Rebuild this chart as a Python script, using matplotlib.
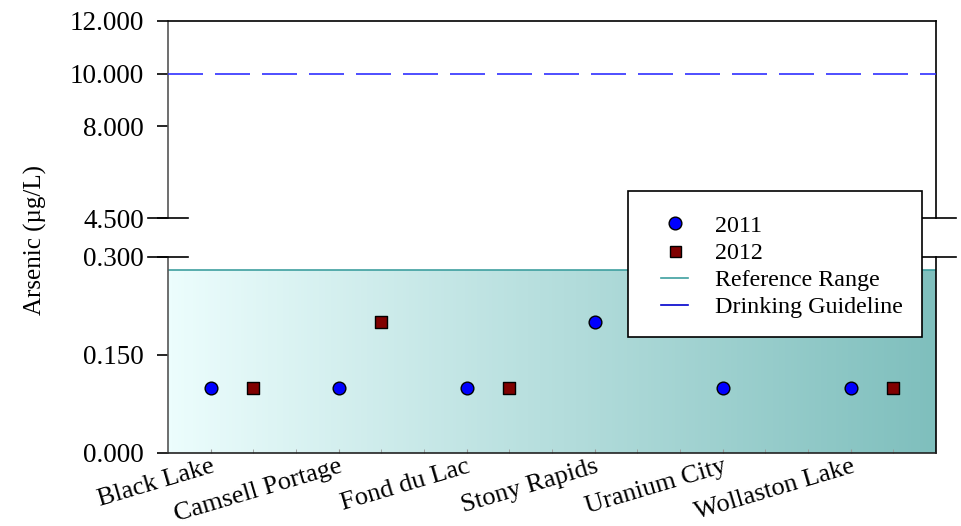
import matplotlib
matplotlib.use("Agg")
import matplotlib.pyplot as plt
import numpy as np
from matplotlib.colors import LinearSegmentedColormap
from matplotlib.lines import Line2D
from matplotlib.patches import Rectangle
from matplotlib.transforms import blended_transform_factory

plt.rcParams['font.family'] = ['Liberation Serif', 'DejaVu Serif']

categories = ["Black Lake", "Camsell Portage", "Fond du Lac", "Stony Rapids", "Uranium City", "Wollaston Lake"]
values_2011 = [0.1, 0.1, 0.1, 0.2, 0.1, 0.1]
values_2012 = [0.1, 0.2, 0.1, None, None, 0.1]
reference_range = (0.0, 0.28)
drinking_guideline = 10.0
upper_ticks = [12.0, 10.0, 8.0, 4.5]
lower_ticks = [0.0, 0.15, 0.3]
y_label = "Arsenic (µg/L)"
legend_labels = ["2011", "2012", "Reference Range", "Drinking Guideline"]

W, H = 961, 526
fig = plt.figure(figsize=(W / 100, H / 100), dpi=100)
PT = 72 / 100  # points per pixel

L, R = 168, 936
ax_top = fig.add_axes([L / W, 1 - 218 / H, (R - L) / W, (218 - 21) / H])
ax_bot = fig.add_axes([L / W, 1 - 453 / H, (R - L) / W, (453 - 257) / H])

n = len(categories)
xmax = 3 * n

x11 = [3 * i + 1 for i in range(n)]
x12 = [3 * i + 2 for i in range(n)]

# gradient reference range
cmap = LinearSegmentedColormap.from_list("ref", ["#ecfdfd", "#7fbfbd"])
grad = np.linspace(0, 1, 256).reshape(1, -1)
ax_bot.imshow(grad, extent=[0, xmax, reference_range[0], reference_range[1]],
              aspect='auto', cmap=cmap, origin='lower', zorder=1, interpolation='bilinear')
ax_bot.plot([0, xmax], [reference_range[1]] * 2, color="#3e9f9f", lw=1.2, zorder=2)

# data points
px = [x for x, v in zip(x11, values_2011) if v is not None]
py = [v for v in values_2011 if v is not None]
ax_bot.scatter(px, py, s=(12.7 * PT) ** 2, marker='o', facecolor='#0000ff', edgecolor='black',
               linewidths=1.0, zorder=5)
qx = [x for x, v in zip(x12, values_2012) if v is not None]
qy = [v for v in values_2012 if v is not None]
ax_bot.scatter(qx, qy, s=(11.3 * PT) ** 2, marker='s', facecolor='#800000', edgecolor='black',
               linewidths=1.0, zorder=5)

# guideline
lw_g = 1.2
ax_top.plot([0, xmax], [drinking_guideline] * 2, color='#3030ff', lw=lw_g,
            dashes=(35 * PT / lw_g, 12 * PT / lw_g), zorder=3)

for ax in (ax_top, ax_bot):
    ax.set_xlim(0, xmax)
ax_top.set_ylim(4.5, 12)
ax_bot.set_ylim(0, 0.3)

# spines
ax_top.spines['bottom'].set_visible(False)
ax_bot.spines['top'].set_visible(False)
for ax in (ax_top, ax_bot):
    ax.spines['left'].set_color('#555555')
    ax.spines['right'].set_color('black')
    ax.spines['left'].set_linewidth(1.2)
    ax.spines['right'].set_linewidth(1.2)
ax_top.spines['top'].set_linewidth(1.2)
ax_bot.spines['bottom'].set_linewidth(1.2)
ax_bot.spines['bottom'].set_color('#222222')

# y ticks
ax_top.set_yticks(upper_ticks)
ax_top.set_yticklabels([f"{t:.3f}" for t in upper_ticks])
ax_bot.set_yticks(lower_ticks)
ax_bot.set_yticklabels([f"{t:.3f}" for t in lower_ticks])
for ax in (ax_top, ax_bot):
    ax.tick_params(axis='y', direction='out', length=11 * PT, width=1.2, labelsize=19.5,
                   pad=13 * PT, color='black')
ax_top.tick_params(axis='x', bottom=False, labelbottom=False)

# x ticks
ax_bot.set_xticks(x11)
ax_bot.set_xticklabels(categories, rotation=16.5, ha='right', rotation_mode='anchor', fontsize=19)
ax_bot.set_xticks(list(range(1, xmax)), minor=True)
ax_bot.tick_params(axis='x', which='major', direction='in', length=3, color='#999999', pad=2)
ax_bot.tick_params(axis='x', which='minor', direction='in', length=3, color='#999999')

# break marks
d = 20 / (R - L)
for ax, yv in ((ax_top, 4.5), (ax_bot, 0.3)):
    tr = blended_transform_factory(ax.transAxes, ax.transData)
    ax.plot([-d, d], [yv, yv], transform=tr, color='black', lw=1.2, clip_on=False, zorder=10)
    ax.plot([1 - d, 1 + d], [yv, yv], transform=tr, color='black', lw=1.2, clip_on=False, zorder=0)

fig.text(35 / W, 1 - 240 / H, y_label, rotation=90, va='center', ha='center', fontsize=18)

# legend frame
frame = Rectangle((628 / W, 1 - 337 / H), (922 - 628) / W, (337 - 191) / H,
                  transform=fig.transFigure, facecolor='white', edgecolor='black',
                  linewidth=1.2, zorder=15)
fig.add_artist(frame)

handles = [
    Line2D([], [], ls='none', marker='o', markersize=12.7 * PT, markerfacecolor='#0000ff',
           markeredgecolor='black'),
    Line2D([], [], ls='none', marker='s', markersize=11 * PT, markerfacecolor='#800000',
           markeredgecolor='black'),
    Line2D([], [], color='#3e9f9f', lw=1.2),
    Line2D([], [], color='#0000cc', lw=1.2),
]
leg = fig.legend(handles, legend_labels, loc='upper left', bbox_to_anchor=(661 / W, 1 - 215 / H),
                 frameon=False, fontsize=17.3, handlelength=1.13,
                 borderpad=0, labelspacing=0.22, handletextpad=1.12, borderaxespad=0)
leg.set_zorder(20)

fig.savefig("out.png", dpi=100)
